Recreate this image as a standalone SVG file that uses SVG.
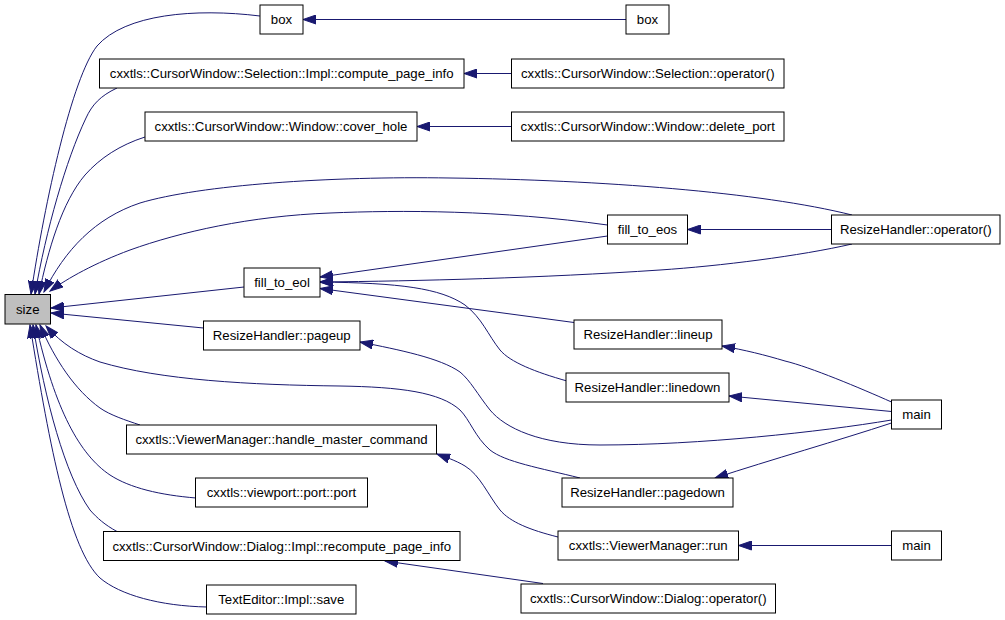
<svg xmlns="http://www.w3.org/2000/svg" width="1005" height="620" viewBox="0 0 1005 620">
<style>
.node rect{fill:#ffffff;stroke:#000000;stroke-width:1}
.node text{font-family:"Liberation Sans",Arial,Helvetica,sans-serif;font-size:13.2px;fill:#000000;text-anchor:middle}
.edge path{fill:none;stroke:#191970;stroke-width:1;marker-end:url(#arr)}
</style>
<defs>
<marker id="arr" markerUnits="userSpaceOnUse" markerWidth="14" markerHeight="10" viewBox="0 0 14 10" refX="13" refY="5" orient="auto">
<path d="M0,0.5 L13,5 L0,9.5 z" fill="#191970" stroke="#191970" stroke-width="1"/>
</marker>
</defs>
<rect width="1005" height="620" fill="#ffffff"/>
<g id="connectors" class="edge">
<path d="M626,19.5 L303,19.5"/>
<path d="M511.5,73.5 L464,73.5"/>
<path d="M511.5,126.5 L417,126.5"/>
<path d="M831.5,229.5 L687.5,229.5"/>
<path d="M852,244 C 800,256 720,266 660,270 C 540,278 420,281 320,282"/>
<path d="M607.5,236 L320,277"/>
<path d="M574,322.5 L320,288.5"/>
<path d="M567,381 C 535,372 510,362 500,350 C 488,335 482,318 465,305 C 440,288 400,283 320,282"/>
<path d="M891.5,402 C 860,388 810,367 785,361 C 765,355 745,350 722,346"/>
<path d="M891.5,411.5 L729,396"/>
<path d="M891.5,420 C 820,432 700,445 600,445 C 540,445 505,428 490,410 C 478,395 470,380 460,372 C 440,358 400,350 360,342"/>
<path d="M891.5,423 C 840,440 770,460 715,478"/>
<path d="M891.5,545.5 L738.5,545.5"/>
<path d="M558,537 C 530,530 510,522 500,510 C 488,495 480,475 465,466 C 455,460 445,457 437,454"/>
<path d="M543,583.5 L385,561"/>
<path d="M260,16 C 195,8 125,14 97,46 C 72,78 45,200 31,294"/>
<path d="M117,88 C 100,96 92,105 86,118 C 66,160 46,230 35,294"/>
<path d="M145,137 C 120,145 100,158 85,175 C 62,202 48,250 39,294"/>
<path d="M852,215 C 760,192 600,180 450,178 C 330,176 200,185 140,203 C 95,218 65,250 44,292"/>
<path d="M607.5,225 C 500,210 400,210 330,213 C 250,216 180,232 130,250 C 95,263 68,278 50,291"/>
<path d="M244,287 L51,308"/>
<path d="M203.5,328 L51,313"/>
<path d="M580,478 C 540,468 505,462 490,450 C 475,437 470,420 460,410 C 440,392 400,387 340,386 C 250,385 160,380 100,362 C 80,355 62,344 46,326"/>
<path d="M140,425 C 125,420 110,415 100,408 C 75,390 55,360 40,325"/>
<path d="M196,498 C 160,495 130,488 110,475 C 80,455 55,410 36,325"/>
<path d="M117,531.5 C 105,525 97,518 90,510 C 65,475 45,400 33,325"/>
<path d="M207,607 C 160,606 120,595 100,578 C 70,550 50,450 30,325"/>
</g>
<g id="n_size" class="node"><rect x="5" y="294.5" width="45.5" height="29.5" style="fill:#bfbfbf"/><text x="27.75" y="313.8">size</text></g>
<g id="n_box1" class="node"><rect x="260" y="5" width="43" height="29"/><text x="281.5" y="24">box</text></g>
<g id="n_box2" class="node"><rect x="626" y="5" width="43" height="29"/><text x="647.5" y="24">box</text></g>
<g id="n_compute" class="node"><rect x="99.5" y="59" width="364.5" height="29"/><text x="281.75" y="78">cxxtls::CursorWindow::Selection::Impl::compute_page_info</text></g>
<g id="n_selop" class="node"><rect x="511.5" y="59" width="272.5" height="29"/><text x="647.75" y="78">cxxtls::CursorWindow::Selection::operator()</text></g>
<g id="n_cover" class="node"><rect x="145" y="112" width="272" height="29"/><text x="281" y="131">cxxtls::CursorWindow::Window::cover_hole</text></g>
<g id="n_delport" class="node"><rect x="511.5" y="112" width="272.5" height="29"/><text x="647.75" y="131">cxxtls::CursorWindow::Window::delete_port</text></g>
<g id="n_eos" class="node"><rect x="607.5" y="215" width="80" height="29"/><text x="647.5" y="234">fill_to_eos</text></g>
<g id="n_rhop" class="node"><rect x="831.5" y="215" width="168.5" height="29"/><text x="915.75" y="234">ResizeHandler::operator()</text></g>
<g id="n_eol" class="node"><rect x="244" y="268" width="76" height="29"/><text x="282" y="287">fill_to_eol</text></g>
<g id="n_pageup" class="node"><rect x="203.5" y="321" width="156.5" height="29"/><text x="281.75" y="340">ResizeHandler::pageup</text></g>
<g id="n_lineup" class="node"><rect x="574" y="320" width="148" height="29"/><text x="648" y="339">ResizeHandler::lineup</text></g>
<g id="n_linedown" class="node"><rect x="566" y="373" width="163" height="29"/><text x="647.5" y="392">ResizeHandler::linedown</text></g>
<g id="n_main1" class="node"><rect x="891.5" y="400" width="50" height="29"/><text x="916.5" y="419">main</text></g>
<g id="n_handle" class="node"><rect x="126.5" y="425" width="310" height="29"/><text x="281.5" y="444">cxxtls::ViewerManager::handle_master_command</text></g>
<g id="n_pagedown" class="node"><rect x="562" y="478" width="171" height="29"/><text x="647.5" y="497">ResizeHandler::pagedown</text></g>
<g id="n_port" class="node"><rect x="195.5" y="478" width="172" height="29"/><text x="281.5" y="497">cxxtls::viewport::port::port</text></g>
<g id="n_run" class="node"><rect x="558" y="531" width="180.5" height="29"/><text x="648.25" y="550">cxxtls::ViewerManager::run</text></g>
<g id="n_main2" class="node"><rect x="891.5" y="531" width="50" height="29"/><text x="916.5" y="550">main</text></g>
<g id="n_recompute" class="node"><rect x="103.5" y="531.5" width="356.5" height="29"/><text x="281.75" y="550.5">cxxtls::CursorWindow::Dialog::Impl::recompute_page_info</text></g>
<g id="n_dialogop" class="node"><rect x="521" y="584" width="254.5" height="29"/><text x="648.25" y="603">cxxtls::CursorWindow::Dialog::operator()</text></g>
<g id="n_save" class="node"><rect x="206.5" y="585" width="149.5" height="29"/><text x="281.25" y="604">TextEditor::Impl::save</text></g>
</svg>
